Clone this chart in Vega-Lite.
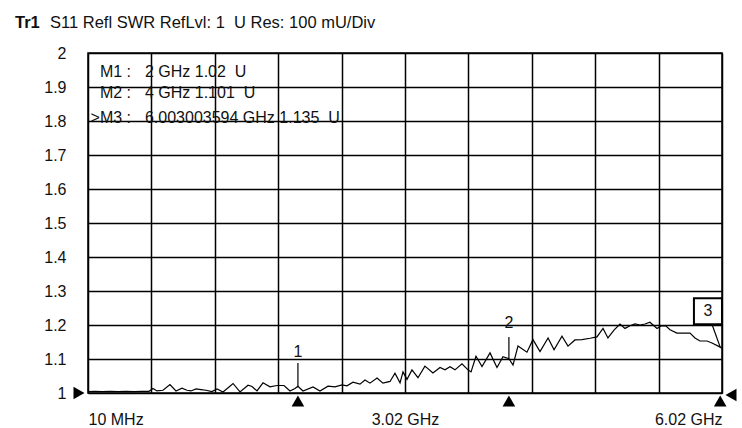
{
  "$schema": "https://vega.github.io/schema/vega-lite/v6.json",
  "width": 634,
  "height": 340,
  "autosize": {"type": "none"},
  "padding": {"left": 88, "top": 53, "right": 20, "bottom": 35},
  "background": "white",
  "config": {"view": {"stroke": "black", "strokeWidth": 1.5}},
  "datasets": {
    "trace": [
      {"f": 0.010, "v": 1.004}, {"f": 0.076, "v": 1.005}, {"f": 0.143, "v": 1.004}, {"f": 0.219, "v": 1.005},
      {"f": 0.294, "v": 1.004}, {"f": 0.370, "v": 1.005}, {"f": 0.446, "v": 1.004}, {"f": 0.522, "v": 1.005},
      {"f": 0.588, "v": 1.005}, {"f": 0.626, "v": 1.013}, {"f": 0.664, "v": 1.006}, {"f": 0.721, "v": 1.008},
      {"f": 0.787, "v": 1.025}, {"f": 0.844, "v": 1.006}, {"f": 0.901, "v": 1.014}, {"f": 0.948, "v": 1.008},
      {"f": 0.986, "v": 1.006}, {"f": 1.034, "v": 1.012}, {"f": 1.081, "v": 1.010}, {"f": 1.129, "v": 1.008},
      {"f": 1.185, "v": 1.004}, {"f": 1.233, "v": 1.012}, {"f": 1.290, "v": 1.003}, {"f": 1.385, "v": 1.028},
      {"f": 1.451, "v": 1.003}, {"f": 1.527, "v": 1.023}, {"f": 1.565, "v": 1.019}, {"f": 1.612, "v": 1.006},
      {"f": 1.669, "v": 1.030}, {"f": 1.735, "v": 1.018}, {"f": 1.802, "v": 1.022}, {"f": 1.868, "v": 1.022},
      {"f": 1.925, "v": 1.006}, {"f": 1.972, "v": 1.013}, {"f": 2.000, "v": 1.020}, {"f": 2.048, "v": 1.006},
      {"f": 2.143, "v": 1.018}, {"f": 2.209, "v": 1.006}, {"f": 2.285, "v": 1.020}, {"f": 2.351, "v": 1.018},
      {"f": 2.418, "v": 1.024}, {"f": 2.465, "v": 1.021}, {"f": 2.522, "v": 1.032}, {"f": 2.588, "v": 1.026},
      {"f": 2.636, "v": 1.038}, {"f": 2.683, "v": 1.029}, {"f": 2.750, "v": 1.044}, {"f": 2.806, "v": 1.029},
      {"f": 2.873, "v": 1.034}, {"f": 2.920, "v": 1.058}, {"f": 2.968, "v": 1.030}, {"f": 2.996, "v": 1.062},
      {"f": 3.034, "v": 1.040}, {"f": 3.081, "v": 1.068}, {"f": 3.138, "v": 1.045}, {"f": 3.204, "v": 1.079},
      {"f": 3.280, "v": 1.059}, {"f": 3.347, "v": 1.075}, {"f": 3.394, "v": 1.068}, {"f": 3.442, "v": 1.077},
      {"f": 3.489, "v": 1.068}, {"f": 3.555, "v": 1.086}, {"f": 3.612, "v": 1.068}, {"f": 3.641, "v": 1.062},
      {"f": 3.688, "v": 1.108}, {"f": 3.745, "v": 1.078}, {"f": 3.821, "v": 1.118}, {"f": 3.887, "v": 1.075},
      {"f": 3.944, "v": 1.107}, {"f": 4.000, "v": 1.101}, {"f": 4.039, "v": 1.082}, {"f": 4.086, "v": 1.138},
      {"f": 4.171, "v": 1.120}, {"f": 4.228, "v": 1.157}, {"f": 4.295, "v": 1.122}, {"f": 4.371, "v": 1.162},
      {"f": 4.428, "v": 1.127}, {"f": 4.503, "v": 1.167}, {"f": 4.560, "v": 1.138}, {"f": 4.626, "v": 1.156},
      {"f": 4.693, "v": 1.157}, {"f": 4.769, "v": 1.161}, {"f": 4.835, "v": 1.165}, {"f": 4.892, "v": 1.190},
      {"f": 4.939, "v": 1.162}, {"f": 4.996, "v": 1.185}, {"f": 5.053, "v": 1.203}, {"f": 5.100, "v": 1.190},
      {"f": 5.148, "v": 1.198}, {"f": 5.195, "v": 1.203}, {"f": 5.243, "v": 1.200}, {"f": 5.290, "v": 1.203},
      {"f": 5.337, "v": 1.208}, {"f": 5.404, "v": 1.190}, {"f": 5.442, "v": 1.197}, {"f": 5.489, "v": 1.197},
      {"f": 5.527, "v": 1.186}, {"f": 5.593, "v": 1.176}, {"f": 5.717, "v": 1.176}, {"f": 5.764, "v": 1.162},
      {"f": 5.811, "v": 1.153}, {"f": 5.878, "v": 1.153}, {"f": 5.925, "v": 1.147}, {"f": 6.003, "v": 1.135},
      {"f": 6.020, "v": 1.131}
    ],
    "markerLines": [
      {"m": "1", "f": 2.0, "v": 1.02, "f2": 2.0, "v2": 1.088},
      {"m": "2", "f": 4.0, "v": 1.101, "f2": 4.0, "v2": 1.165},
      {"m": "3", "f": 6.003, "v": 1.135, "f2": 5.925, "v2": 1.202}
    ],
    "markerLabels": [
      {"m": "1", "f": 2.0, "v": 1.12},
      {"m": "2", "f": 4.0, "v": 1.206},
      {"m": "3", "f": 5.887, "v": 1.24}
    ],
    "markerBox": [
      {"m": "3", "f": 5.754, "f2": 6.02, "v": 1.202, "v2": 1.2785}
    ],
    "markerFreqs": [
      {"m": "1", "f": 2.0}, {"m": "2", "f": 4.0}, {"m": "3", "f": 6.003}
    ],
    "readout": [
      {"a": "M1 :", "b": "2 GHz 1.02\u00a0 U", "v": 1.944},
      {"a": "M2 :", "b": "4 GHz 1.101\u00a0 U", "v": 1.882},
      {"a": ">M3 :", "b": "6.003003594 GHz 1.135\u00a0 U", "v": 1.81}
    ],
    "traceName": [{"t": "Tr1", "f": -0.682}],
    "header": [{"t": "S11 Refl SWR RefLvl: 1\u00a0 U Res: 100 mU/Div", "f": -0.35}]
  },
  "layer": [
    {
      "data": {"name": "trace"},
      "mark": {"type": "line", "color": "black", "strokeWidth": 1.2, "clip": false},
      "encoding": {
        "x": {
          "field": "f", "type": "quantitative",
          "scale": {"domain": [0.01, 6.02], "nice": false, "zero": false},
          "axis": {
            "title": null,
            "values": [0.01, 0.611, 1.212, 1.813, 2.414, 3.015, 3.616, 4.217, 4.818, 5.419, 6.02],
            "tickCount": 30,
            "grid": true, "gridColor": "black", "gridWidth": 1.5, "gridOpacity": 1,
            "ticks": false, "domain": false,
            "labelExpr": "datum.value < 0.1 ? '10 MHz' : (abs(datum.value - 3.015) < 0.01 ? '3.02 GHz' : (datum.value > 6 ? '6.02 GHz' : ''))",
            "labelFlush": true, "labelOverlap": false, "labelPadding": 18,
            "labelFont": "Liberation Sans",
            "labelFontSize": 16, "labelColor": "#111"
          }
        },
        "y": {
          "field": "v", "type": "quantitative",
          "scale": {"domain": [1, 2], "nice": false, "zero": false},
          "axis": {
            "title": null,
            "values": [1, 1.1, 1.2, 1.3, 1.4, 1.5, 1.6, 1.7, 1.8, 1.9, 2],
            "tickCount": 30,
            "format": ".1~f",
            "grid": true, "gridColor": "black", "gridWidth": 1.5, "gridOpacity": 1,
            "ticks": false, "domain": false,
            "labelFlush": false, "labelOverlap": false, "labelPadding": 22,
            "labelFont": "Liberation Sans",
            "labelFontSize": 16, "labelColor": "#111"
          }
        }
      }
    },
    {
      "data": {"name": "markerLines"},
      "mark": {"type": "rule", "color": "black", "strokeWidth": 1.2},
      "encoding": {
        "x": {"field": "f", "type": "quantitative"},
        "y": {"field": "v", "type": "quantitative"},
        "x2": {"field": "f2"},
        "y2": {"field": "v2"}
      }
    },
    {
      "data": {"name": "markerBox"},
      "mark": {"type": "rect", "fill": "white", "stroke": "black", "strokeWidth": 2},
      "encoding": {
        "x": {"field": "f", "type": "quantitative"},
        "x2": {"field": "f2"},
        "y": {"field": "v", "type": "quantitative"},
        "y2": {"field": "v2"}
      }
    },
    {
      "data": {"name": "markerLabels"},
      "mark": {"type": "text", "font": "Liberation Sans", "fontSize": 16, "color": "#111", "align": "center", "baseline": "middle"},
      "encoding": {
        "x": {"field": "f", "type": "quantitative"},
        "y": {"field": "v", "type": "quantitative"},
        "text": {"field": "m"}
      }
    },
    {
      "data": {"name": "markerFreqs"},
      "mark": {"type": "point", "shape": "triangle-up", "filled": true, "color": "black", "opacity": 1, "size": 160, "yOffset": 8},
      "encoding": {
        "x": {"field": "f", "type": "quantitative"},
        "y": {"datum": 1}
      }
    },
    {
      "data": {"values": [{"f": 0.01}]},
      "mark": {"type": "point", "shape": "triangle-right", "filled": true, "color": "black", "opacity": 1, "size": 160, "xOffset": -9},
      "encoding": {
        "x": {"field": "f", "type": "quantitative"},
        "y": {"datum": 1}
      }
    },
    {
      "data": {"values": [{"f": 6.02}]},
      "mark": {"type": "point", "shape": "triangle-left", "filled": true, "color": "black", "opacity": 1, "size": 160, "xOffset": 9, "yOffset": 2},
      "encoding": {
        "x": {"field": "f", "type": "quantitative"},
        "y": {"datum": 1}
      }
    },
    {
      "data": {"name": "readout"},
      "mark": {"type": "text", "font": "Liberation Sans", "fontSize": 16, "color": "#111", "align": "right", "baseline": "middle"},
      "encoding": {
        "x": {"datum": 0.418},
        "y": {"field": "v", "type": "quantitative"},
        "text": {"field": "a"}
      }
    },
    {
      "data": {"name": "readout"},
      "mark": {"type": "text", "font": "Liberation Sans", "fontSize": 16, "color": "#111", "align": "left", "baseline": "middle"},
      "encoding": {
        "x": {"datum": 0.55},
        "y": {"field": "v", "type": "quantitative"},
        "text": {"field": "b"}
      }
    },
    {
      "data": {"name": "traceName"},
      "mark": {"type": "text", "font": "Liberation Sans", "fontSize": 16.5, "fontWeight": "bold", "color": "#111", "align": "left", "baseline": "alphabetic"},
      "encoding": {
        "x": {"field": "f", "type": "quantitative"},
        "y": {"datum": 2.0735},
        "text": {"field": "t"}
      }
    },
    {
      "data": {"name": "header"},
      "mark": {"type": "text", "font": "Liberation Sans", "fontSize": 16.5, "fontWeight": "normal", "color": "#111", "align": "left", "baseline": "alphabetic"},
      "encoding": {
        "x": {"field": "f", "type": "quantitative"},
        "y": {"datum": 2.0735},
        "text": {"field": "t"}
      }
    }
  ]
}
